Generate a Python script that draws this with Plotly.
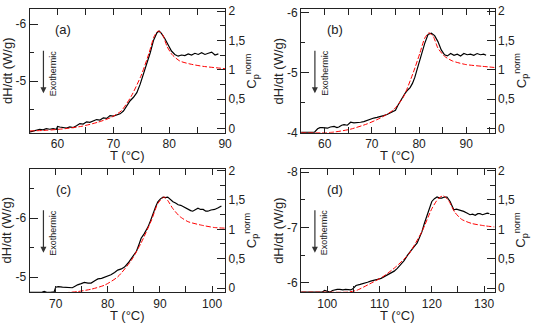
import plotly.graph_objects as go

# ---- panel (a) ----
t_a = [55.0, 55.6, 56.2, 56.8, 57.4, 58.0, 58.6, 59.2, 59.8, 60.0, 60.4, 61.0, 61.6, 62.2, 62.8,
       63.4, 64.0, 64.6, 65.2, 65.8, 66.4, 67.0, 67.6, 68.2, 68.8, 69.4, 70.0, 70.6, 71.2, 71.8,
       72.4, 73.0, 73.6, 74.2, 74.8, 75.4, 76.0, 76.6, 77.2, 77.8, 78.2, 78.6, 79.2, 79.8, 80.4,
       81.0, 81.6, 82.2, 82.8, 83.4, 84.0, 84.6, 85.2, 85.8, 86.4, 87.0, 87.6, 88.2, 88.8]
dh_a = [-4.11, -4.13, -4.15, -4.16, -4.15, -4.17, -4.16, -4.17, -4.16, -4.21, -4.20, -4.19, -4.18, -4.20, -4.19,
        -4.22, -4.26, -4.25, -4.29, -4.28, -4.31, -4.33, -4.32, -4.36, -4.35, -4.40, -4.39, -4.41, -4.43, -4.48,
        -4.58, -4.66, -4.72, -4.80, -4.95, -5.12, -5.30, -5.50, -5.72, -5.85, -5.88, -5.84, -5.75, -5.63, -5.53,
        -5.47, -5.44, -5.46, -5.45, -5.48, -5.46, -5.49, -5.47, -5.50, -5.47, -5.49, -5.51, -5.46, -5.48]
tc_a = [55, 58, 61.5, 64.4, 67.3, 69.6, 71.4, 73.2, 75, 76.4, 77.3, 78, 78.8, 79.6, 80.5, 81.9, 83.7, 86, 90]
cp_a = [-0.04, -0.03, 0.0, 0.04, 0.11, 0.19, 0.30, 0.55, 0.91, 1.29, 1.57, 1.66, 1.60, 1.40, 1.26, 1.15, 1.10, 1.06, 1.02]

# ---- panel (b) ----
t_b = [55.0, 56.0, 57.0, 57.8, 58.5, 59.0, 59.5, 60.0, 60.6, 61.2, 62.0, 62.6, 63.0, 63.6, 64.1,
       64.8, 65.5, 66.2, 66.9, 67.6, 68.3, 69.0, 69.7, 70.4, 71.1, 71.8, 72.5, 73.2, 73.9, 74.5,
       75.0, 75.5, 76.0, 76.5, 77.0, 77.6, 78.1, 78.6, 79.1, 79.6, 80.2, 80.7, 81.2, 81.9, 82.6,
       83.3, 84.0, 84.7, 85.4, 86.0, 86.7, 87.4, 88.1, 88.8, 89.5, 90.2, 90.9, 91.6, 92.3, 93.0,
       93.7, 94.2]
dh_b = [-4.00, -4.00, -4.01, -4.00, -4.06, -4.08, -4.08, -4.07, -4.07, -4.09, -4.10, -4.08, -4.09, -4.12, -4.13,
        -4.12, -4.17, -4.16, -4.16, -4.17, -4.18, -4.20, -4.23, -4.24, -4.25, -4.26, -4.28, -4.30, -4.33, -4.35,
        -4.37, -4.45, -4.52, -4.59, -4.65, -4.71, -4.75, -4.82, -4.92, -5.06, -5.22, -5.37, -5.49, -5.64, -5.66,
        -5.62, -5.52, -5.38, -5.30, -5.28, -5.32, -5.29, -5.31, -5.28, -5.32, -5.30, -5.31, -5.29, -5.32, -5.30,
        -5.31, -5.29]
tc_b = [55, 60, 62, 65.5, 69, 71.8, 74.6, 76.7, 78.8, 80.2, 81.2, 82.1, 83, 84, 85.4, 87.1, 89.9, 93.4, 96]
cp_b = [-0.07, -0.07, -0.06, -0.01, 0.08, 0.18, 0.32, 0.54, 0.96, 1.29, 1.54, 1.63, 1.57, 1.37, 1.23, 1.15, 1.09, 1.06, 1.04]

# ---- panel (c) ----
t_c = [65.0, 65.8, 66.5, 67.2, 67.8, 68.4, 69.0, 69.7, 70.0, 70.5, 71.3, 72.2, 73.2, 73.8, 74.2,
       74.9, 75.5, 76.2, 76.8, 77.5, 78.1, 78.8, 79.4, 80.0, 80.6, 81.3, 81.9, 82.6, 83.2, 83.9,
       84.5, 85.0, 85.5, 86.0, 86.4, 87.0, 87.7, 88.2, 88.7, 89.2, 89.6, 90.1, 90.6, 91.0, 91.5,
       92.0, 92.5, 93.0, 93.5, 94.0, 94.4, 95.0, 95.4, 95.9, 96.3, 96.8, 97.3, 97.8, 98.3, 98.8,
       99.2, 99.8, 100.5, 101.2, 101.8]
dh_c = [-4.74, -4.74, -4.75, -4.74, -4.76, -4.74, -4.74, -4.75, -4.83, -4.84, -4.83, -4.82, -4.82, -4.85, -4.87,
        -4.89, -4.91, -4.90, -4.90, -4.94, -4.97, -4.98, -5.00, -5.01, -5.04, -5.08, -5.12, -5.14, -5.17, -5.24,
        -5.31, -5.37, -5.44, -5.56, -5.66, -5.74, -5.85, -5.96, -6.09, -6.20, -6.28, -6.33, -6.36, -6.35, -6.36,
        -6.32, -6.28, -6.26, -6.23, -6.22, -6.20, -6.18, -6.15, -6.13, -6.12, -6.14, -6.17, -6.15, -6.15, -6.12,
        -6.12, -6.14, -6.15, -6.18, -6.21]
tc_c = [65, 68, 71.6, 74.2, 76.8, 79.4, 81.9, 84.5, 86.4, 88.4, 89.6, 90.8, 91.5, 92.5, 93.8, 95.4, 98, 100.5, 102.5]
cp_c = [-0.08, -0.08, -0.08, -0.06, -0.02, 0.05, 0.19, 0.47, 0.77, 1.16, 1.44, 1.55, 1.49, 1.35, 1.22, 1.13, 1.07, 1.03, 1.02]

# ---- panel (d) ----
t_d = [95.0, 96.0, 97.0, 98.0, 99.0, 99.5, 100.0, 100.5, 101.0, 101.4, 101.9, 102.4, 103.0, 103.5, 104.0,
       104.5, 104.9, 105.5, 106.3, 107.1, 107.7, 108.3, 109.0, 109.6, 110.3, 110.9, 111.5, 112.1, 112.8, 113.4,
       114.0, 114.7, 115.3, 115.9, 116.5, 117.2, 117.7, 118.1, 118.6, 119.1, 119.6, 120.0, 120.5, 121.0, 121.5,
       121.9, 122.4, 122.9, 123.5, 124.0, 124.2, 124.7, 125.1, 125.6, 126.1, 126.7, 127.3, 127.8, 128.3, 128.8,
       129.2, 129.7, 130.2, 130.6, 131.0]
dh_d = [-5.83, -5.83, -5.83, -5.83, -5.83, -5.86, -5.84, -5.83, -5.86, -5.87, -5.88, -5.88, -5.87, -5.88, -5.88,
        -5.87, -5.89, -5.95, -5.97, -6.00, -6.01, -6.03, -6.04, -6.06, -6.08, -6.11, -6.13, -6.17, -6.21, -6.26,
        -6.32, -6.40, -6.49, -6.57, -6.64, -6.72, -6.82, -6.92, -7.08, -7.23, -7.37, -7.47, -7.52, -7.55, -7.53,
        -7.53, -7.55, -7.55, -7.47, -7.36, -7.32, -7.33, -7.32, -7.30, -7.29, -7.26, -7.23, -7.24, -7.22, -7.25,
        -7.25, -7.23, -7.24, -7.26, -7.25]
tc_d = [95, 100, 103.8, 105.6, 108.1, 110.6, 113.1, 115.6, 118.1, 120, 121.3, 122.2, 123.2, 124.4, 125.7, 127.6, 130.1, 132]
cp_d = [-0.07, -0.07, -0.07, -0.04, 0.07, 0.19, 0.36, 0.58, 0.96, 1.35, 1.53, 1.57, 1.49, 1.29, 1.17, 1.10, 1.06, 1.04]

W, H = 545, 330
FONT = "Liberation Sans, Arial, sans-serif"
INK = "#222"

def px(x):
    return x / W

def py(y):
    return 1 - y / H

# pixel boxes: left, right, top, bottom
panels = [
    dict(lab="(a)", t=t_a, dh=dh_a, tc=tc_a, cp=cp_a, xr=[55, 90], yr=[-4.1, -6.26], box=(30, 228, 4.5, 132.5)),
    dict(lab="(b)", t=t_b, dh=dh_b, tc=tc_b, cp=cp_b, xr=[55, 96], yr=[-3.995, -6.06], box=(305, 501, 4.5, 132.5)),
    dict(lab="(c)", t=t_c, dh=dh_c, tc=tc_c, cp=cp_c, xr=[65, 102.5], yr=[-4.745, -6.84], box=(30, 228, 170, 298)),
    dict(lab="(d)", t=t_d, dh=dh_d, tc=tc_d, cp=cp_d, xr=[95, 132], yr=[-5.83, -8.06], box=(305, 501, 170, 298)),
]

fig = go.Figure()
annotations = []
layout = {}

for i, p in enumerate(panels):
    n = i + 1
    xa = "x" if n == 1 else f"x{n}"
    ya = "y" if n == 1 else f"y{n}"
    yb = f"y{n + 4}"
    l, r, t, b = p["box"]

    fig.add_trace(go.Scatter(x=p["tc"], y=p["cp"], xaxis=xa, yaxis=yb, mode="lines",
                             line=dict(color="red", width=1, dash="5px,2px", shape="spline", smoothing=0.6)))
    fig.add_trace(go.Scatter(x=p["t"], y=p["dh"], xaxis=xa, yaxis=ya, mode="lines",
                             line=dict(color="black", width=1.2)))

    tickfont = dict(family=FONT, size=12, color=INK)
    layout["xaxis" if n == 1 else f"xaxis{n}"] = dict(
        domain=[px(l), px(r)], anchor=ya, range=p["xr"], dtick=10, tick0=0,
        ticks="inside", ticklen=6, tickwidth=1, tickcolor=INK,
        showline=True, linecolor=INK, linewidth=1, mirror="allticks",
        minor=dict(ticks="inside", ticklen=4, dtick=5, tick0=0, tickcolor=INK),
        showgrid=False, zeroline=False, tickfont=tickfont,
    )
    lo, hi = sorted(p["yr"])
    ticks_left = [v for v in range(-9, -2) if lo <= v <= hi]
    layout["yaxis" if n == 1 else f"yaxis{n}"] = dict(
        domain=[py(b), py(t)], anchor=xa, range=p["yr"],
        tickmode="array", tickvals=ticks_left, ticktext=[f"-{abs(v)}" for v in ticks_left],
        ticks="inside", ticklen=8, tickwidth=1, tickcolor=INK,
        showline=True, linecolor=INK, linewidth=1,
        minor=dict(ticks="inside", ticklen=4, tickmode="linear", dtick=0.5, tick0=0, tickcolor=INK),
        showgrid=False, zeroline=False, tickfont=tickfont,
    )
    layout[f"yaxis{n + 4}"] = dict(
        domain=[py(b), py(t)], anchor=xa, overlaying=ya, side="right", range=[-0.07, 2.03],
        tickmode="array", tickvals=[0, 0.5, 1, 1.5, 2], ticktext=["0", "0,5", "1", "1,5", "2"],
        ticks="inside", ticklen=8, tickwidth=1, tickcolor=INK,
        showline=True, linecolor=INK, linewidth=1,
        minor=dict(ticks="inside", ticklen=5, tickmode="linear", dtick=0.25, tick0=0, tickcolor=INK),
        showgrid=False, zeroline=False, tickfont=tickfont,
    )

    ym = (t + b) / 2
    annotations += [
        dict(text="dH/dt (W/g)", x=px(l - 23), y=py(ym), textangle=-90,
             font=dict(family=FONT, size=13, color=INK)),
        dict(text="C<sub>p</sub><sup>norm</sup>", x=px(r + 27), y=py(ym), textangle=-90,
             font=dict(family=FONT, size=13, color=INK)),
        dict(text="T (°C)", x=px((l + r) / 2), y=py(b + 24),
             font=dict(family=FONT, size=13, color=INK)),
        dict(text=p["lab"], x=px(l + 34), y=py(t + 21),
             font=dict(family=FONT, size=13, color=INK)),
        dict(text="", x=px(l + 14), y=py(t + 87), showarrow=True, ax=0, ay=-44,
             arrowhead=2, arrowsize=1, arrowwidth=1.2, arrowcolor="#333"),
        dict(text="Exothermic", x=px(l + 24), y=py(t + 66), textangle=-90,
             font=dict(family=FONT, size=9, color=INK)),
    ]

for a in annotations:
    a.setdefault("showarrow", False)
    a["xref"] = "paper"
    a["yref"] = "paper"
    a["xanchor"] = "center"
    a["yanchor"] = "middle"

fig.update_layout(
    width=W, height=H,
    margin=dict(l=0, r=0, t=0, b=0),
    paper_bgcolor="white", plot_bgcolor="white",
    showlegend=False,
    annotations=annotations,
    **layout,
)

# page body has a default 8px margin; drop it so the figure fills the window
fig.write_html("out.html", config={"displayModeBar": False},
               post_script="document.body.style.margin='0';")
